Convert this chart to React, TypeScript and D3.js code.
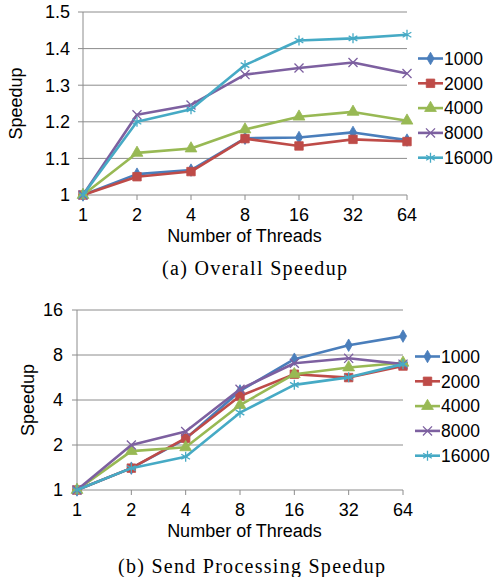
import React from "react";
import * as d3 from "d3";

// thread counts on the x axis
const threads = ["1", "2", "4", "8", "16", "32", "64"];
const seriesNames = ["1000", "2000", "4000", "8000", "16000"];
const colors = ["#4A7EBB", "#BE4B48", "#98B954", "#7D60A0", "#46AAC5"];

// (a) overall speedup
const overall1000 = [1, 1.057, 1.068, 1.155, 1.157, 1.171, 1.15];
const overall2000 = [1, 1.05, 1.064, 1.154, 1.134, 1.152, 1.146];
const overall4000 = [1, 1.115, 1.127, 1.179, 1.214, 1.227, 1.203];
const overall8000 = [1, 1.219, 1.246, 1.329, 1.347, 1.362, 1.332];
const overall16000 = [1, 1.2, 1.234, 1.355, 1.422, 1.428, 1.438];
const overallTicks = [1, 1.1, 1.2, 1.3, 1.4, 1.5];

// (b) send processing speedup
const send1000 = [1, 1.4, 2.2, 4.6, 7.5, 9.3, 10.7];
const send2000 = [1, 1.4, 2.22, 4.25, 5.95, 5.65, 6.75];
const send4000 = [1, 1.82, 1.93, 3.7, 5.95, 6.6, 7.1];
const send8000 = [1, 2.0, 2.46, 4.72, 7.05, 7.6, 6.95];
const send16000 = [1, 1.4, 1.67, 3.29, 5.05, 5.67, 6.95];
const sendTicks = [1, 2, 4, 8, 16];

const symbols = [d3.symbolDiamond, d3.symbolSquare, d3.symbolTriangle, d3.symbolX, d3.symbolAsterisk];
const symSizes = [45, 72, 60, 55, 70];
const strokeSym = [false, false, false, true, true];

const sans = "'Liberation Sans', Arial, sans-serif";
const serif = "'Liberation Serif', 'DejaVu Serif', serif";
const gridColor = "#8c8c8c";

function Marker({ i, x, y }: { i: number; x: number; y: number }) {
  const d = d3.symbol().type(symbols[i]).size(symSizes[i])() || "";
  return strokeSym[i] ? (
    <path d={d} transform={`translate(${x},${y})`} fill="none" stroke={colors[i]} strokeWidth={1.3} />
  ) : (
    <path d={d} transform={`translate(${x},${y})`} fill={colors[i]} stroke={colors[i]} strokeWidth={0.8} />
  );
}

function Chart({ data, y, ticks, tickFmt, x0, x1, labelRight, speedupX, legendX, legendTop, legendStep, caption, captionX, captionY, captionW }: any) {
  const x = d3.scalePoint<string>().domain(threads).range([x0, x1]);
  const [yBot, yTop] = y.range();
  const line = d3.line<number>().x((_, j) => x(threads[j])!).y((v) => y(v));
  return (
    <g>
      {ticks.map((t: number) => (
        <g key={t}>
          <line x1={x0 - 5} x2={x1} y1={y(t)} y2={y(t)} stroke={gridColor} strokeWidth={1} />
          <text x={labelRight} y={y(t)} dy="0.35em" textAnchor="end" fontFamily={sans} fontSize={18} fill="#000">
            {tickFmt(t)}
          </text>
        </g>
      ))}
      <line x1={x0} x2={x0} y1={yTop} y2={yBot} stroke={gridColor} strokeWidth={1} />
      {threads.map((t) => (
        <g key={t}>
          <line x1={x(t)} x2={x(t)} y1={yBot} y2={yBot + 5} stroke={gridColor} strokeWidth={1} />
          <text x={x(t)} y={yBot + 26} textAnchor="middle" fontFamily={sans} fontSize={18} fill="#000">
            {t}
          </text>
        </g>
      ))}
      <text
        transform={`translate(${speedupX},${(yTop + yBot) / 2}) rotate(-90)`}
        textAnchor="middle"
        dy="0.35em"
        fontFamily={sans}
        fontSize={18}
      >
        Speedup
      </text>
      <text x={244.5} y={yBot + 47} textAnchor="middle" fontFamily={sans} fontSize={18}>
        Number of Threads
      </text>
      {data.map((vals: number[], i: number) => (
        <g key={i}>
          <path d={line(vals) || ""} fill="none" stroke={colors[i]} strokeWidth={2.6} strokeLinejoin="round" />
          {vals.map((v, j) => (
            <Marker key={j} i={i} x={x(threads[j])!} y={y(v)} />
          ))}
        </g>
      ))}
      {seriesNames.map((n, i) => {
        const ly = legendTop + i * legendStep;
        return (
          <g key={n}>
            <line x1={legendX} x2={legendX + 25} y1={ly} y2={ly} stroke={colors[i]} strokeWidth={2.6} />
            <Marker i={i} x={legendX + 12.5} y={ly} />
            <text x={legendX + 26} y={ly} dy="0.36em" fontFamily={sans} fontSize={17.5}>
              {n}
            </text>
          </g>
        );
      })}
      <text
        x={captionX}
        y={captionY}
        textAnchor="middle"
        dy="0.35em"
        fontFamily={serif}
        fontSize={20}
        textLength={captionW}
        lengthAdjust="spacing"
      >
        {caption}
      </text>
    </g>
  );
}

export default function App() {
  const yTopChart = d3.scaleLinear().domain([1, 1.5]).range([195, 12]);
  const yBottomChart = d3.scaleLog().base(2).domain([1, 16]).range([490, 310]);
  return (
    <svg width={497} height={577} style={{ position: "absolute", left: 0, top: 0, background: "#fff" }}>
      <rect width={497} height={577} fill="#fff" />
      <Chart
        data={[overall1000, overall2000, overall4000, overall8000, overall16000]}
        y={yTopChart}
        ticks={overallTicks}
        tickFmt={(t: number) => (t === 1 ? "1" : t.toFixed(1))}
        x0={83}
        x1={407}
        labelRight={70}
        speedupX={16}
        legendX={418}
        legendTop={58.5}
        legendStep={24.8}
        caption="(a)  Overall Speedup"
        captionX={254.5}
        captionY={268}
        captionW={185}
      />
      <Chart
        data={[send1000, send2000, send4000, send8000, send16000]}
        y={yBottomChart}
        ticks={sendTicks}
        tickFmt={(t: number) => String(t)}
        x0={77}
        x1={403}
        labelRight={63}
        speedupX={28}
        legendX={415}
        legendTop={356.5}
        legendStep={24.8}
        caption="(b)  Send Processing Speedup"
        captionX={251.5}
        captionY={566}
        captionW={267}
      />
    </svg>
  );
}
